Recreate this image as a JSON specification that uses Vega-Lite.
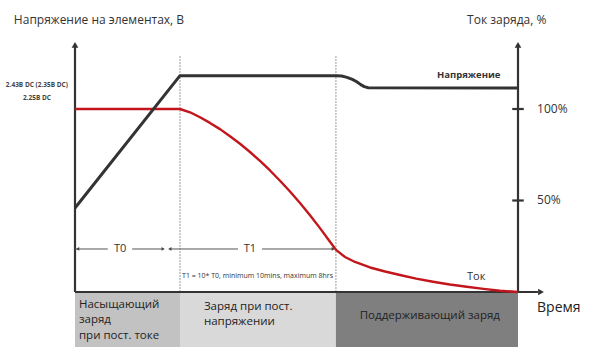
{
  "$schema": "https://vega.github.io/schema/vega-lite/v6.json",
  "width": 600,
  "height": 358,
  "autosize": {"type": "fit", "contains": "padding"},
  "padding": 0,
  "background": "white",
  "config": {"view": {"stroke": null}, "font": "Open Sans"},
  "datasets": {
    "bands": [
      {"phase": "bulk", "t": 0, "t2": 23.7, "v": -0.5, "v2": -30.0},
      {"phase": "absorption", "t": 23.7, "t2": 58.9, "v": -0.5, "v2": -30.0},
      {"phase": "float", "t": 58.9, "t2": 100, "v": -0.5, "v2": -30.0}
    ],
    "phaseMarks": [
      {"t": 23.7, "v": 0, "t2": 23.7, "v2": 129.5},
      {"t": 58.9, "v": 0, "t2": 58.9, "v2": 129.5}
    ],
    "axes": [
      {"axis": "left", "t": 0, "v": 0, "t2": 0, "v2": 134},
      {"axis": "right", "t": 100, "v": 0, "t2": 100, "v2": 134},
      {"axis": "time", "t": 0, "v": 0, "t2": 104.5, "v2": 0},
      {"axis": "tick100", "t": 98.7, "v": 100, "t2": 101.3, "v2": 100},
      {"axis": "tick50", "t": 98.7, "v": 50, "t2": 101.3, "v2": 50}
    ],
    "arrowUp": [{"t": 0, "v": 135}, {"t": 100, "v": 135}],
    "arrowRight": [{"t": 105.2, "v": 0}, {"t": 19.9, "v": 23.5}, {"t": 58.3, "v": 23.5}],
    "arrowLeft": [{"t": 0.6, "v": 23.5}, {"t": 21.4, "v": 23.5}],
    "spans": [
      {"span": "T0a", "t": 0, "v": 23.5, "t2": 7.4, "v2": 23.5},
      {"span": "T0b", "t": 12.9, "v": 23.5, "t2": 19.9, "v2": 23.5},
      {"span": "T1a", "t": 21.4, "v": 23.5, "t2": 36.8, "v2": 23.5},
      {"span": "T1b", "t": 42.2, "v": 23.5, "t2": 58.3, "v2": 23.5}
    ],
    "voltage": [
      {"t": 0, "v": 45.9},
      {"t": 23.7, "v": 118.2},
      {"t": 59.1, "v": 118.2},
      {"t": 60.2, "v": 118.0},
      {"t": 61.4, "v": 117.3},
      {"t": 62.6, "v": 116.2},
      {"t": 63.6, "v": 114.9},
      {"t": 64.5, "v": 113.3},
      {"t": 65.3, "v": 112.2},
      {"t": 66.2, "v": 111.6},
      {"t": 100, "v": 111.5}
    ],
    "current": [
      {"t": 0, "v": 100},
      {"t": 23.7, "v": 100},
      {"t": 25.96, "v": 98.2},
      {"t": 28.22, "v": 95.5},
      {"t": 30.47, "v": 92.4},
      {"t": 32.73, "v": 89.0},
      {"t": 34.99, "v": 85.1},
      {"t": 37.25, "v": 81.0},
      {"t": 39.50, "v": 76.5},
      {"t": 41.76, "v": 71.6},
      {"t": 44.02, "v": 66.4},
      {"t": 46.28, "v": 60.8},
      {"t": 48.53, "v": 54.9},
      {"t": 50.79, "v": 48.6},
      {"t": 53.05, "v": 41.9},
      {"t": 55.30, "v": 34.9},
      {"t": 57.56, "v": 27.5},
      {"t": 58.92, "v": 23.0},
      {"t": 60.95, "v": 19.1},
      {"t": 63.21, "v": 16.4},
      {"t": 66.59, "v": 13.4},
      {"t": 70.0, "v": 11.2},
      {"t": 73.36, "v": 9.3},
      {"t": 77.0, "v": 7.3},
      {"t": 80.81, "v": 5.6},
      {"t": 84.6, "v": 4.1},
      {"t": 88.42, "v": 2.9},
      {"t": 92.2, "v": 1.7},
      {"t": 95.94, "v": 0.7},
      {"t": 100, "v": 0}
    ],
    "titles": [
      {"text": "Напряжение на элементах, В", "t": -13.8, "v": 148.6},
      {"text": "Ток заряда, %", "t": 88.5, "v": 148.6}
    ],
    "voltLabels": [
      {"text": "2.43В DC (2.35В DC)", "t": -8.6, "v": 113.1},
      {"text": "2.25В DC", "t": -8.6, "v": 106.0}
    ],
    "pctLabels": [
      {"text": "100%", "t": 104.3, "v": 100},
      {"text": "50%", "t": 104.3, "v": 50}
    ],
    "spanLabels": [
      {"text": "T0", "t": 10.2, "v": 23.5},
      {"text": "T1", "t": 39.5, "v": 23.5}
    ],
    "note": [
      {"text": "T1 = 10* T0, minimum 10mins, maximum 8hrs", "t": 41.2, "v": 8.7}
    ],
    "seriesLabels": [
      {"text": "Напряжение", "t": 81.7, "v": 118.6, "kind": "bold"},
      {"text": "Ток", "t": 88.5, "v": 8.4, "kind": "plain"}
    ],
    "timeLabel": [{"text": "Время", "t": 104.3, "v": -8.7}],
    "phaseText": [
      {"text": "Насыщающий", "t": 0.9, "v": -7.1},
      {"text": "заряд", "t": 0.9, "v": -15.3},
      {"text": "при пост. токе", "t": 0.9, "v": -24.0},
      {"text": "Заряд при пост.", "t": 29.1, "v": -8.2},
      {"text": "напряжении", "t": 29.1, "v": -16.4}
    ],
    "floatText": [{"text": "Поддерживающий заряд", "t": 80.1, "v": -13.1}]
  },
  "encoding": {
    "x": {"field": "t", "type": "quantitative", "scale": {"domain": [-16.93, 118.51], "nice": false, "zero": false}, "axis": null},
    "y": {"field": "v", "type": "quantitative", "scale": {"domain": [-36.07, 159.56], "nice": false, "zero": false}, "axis": null}
  },
  "layer": [
    {
      "data": {"name": "bands"},
      "mark": {"type": "rect"},
      "encoding": {
        "x2": {"field": "t2"},
        "y2": {"field": "v2"},
        "color": {"field": "phase", "type": "nominal", "legend": null,
          "scale": {"domain": ["bulk", "absorption", "float"], "range": ["#c2c2c2", "#d9d9d9", "#7f7f7f"]}}
      }
    },
    {
      "data": {"name": "phaseMarks"},
      "mark": {"type": "rule", "color": "#9a9a9a", "strokeWidth": 1, "strokeDash": [2, 1]},
      "encoding": {"x2": {"field": "t2"}, "y2": {"field": "v2"}}
    },
    {
      "data": {"name": "axes"},
      "mark": {"type": "rule", "color": "#333333", "strokeWidth": 2.2},
      "encoding": {"x2": {"field": "t2"}, "y2": {"field": "v2"}}
    },
    {
      "data": {"name": "arrowUp"},
      "mark": {"type": "point", "shape": "triangle-up", "filled": true, "color": "#333333", "size": 45, "opacity": 1}
    },
    {
      "data": {"name": "arrowRight"},
      "transform": [{"filter": "datum.v == 0"}],
      "mark": {"type": "point", "shape": "triangle-right", "filled": true, "color": "#333333", "size": 45, "opacity": 1}
    },
    {
      "data": {"name": "spans"},
      "mark": {"type": "rule", "color": "#555555", "strokeWidth": 1},
      "encoding": {"x2": {"field": "t2"}, "y2": {"field": "v2"}}
    },
    {
      "data": {"name": "arrowRight"},
      "transform": [{"filter": "datum.v != 0"}],
      "mark": {"type": "point", "shape": "triangle-right", "filled": true, "color": "#444444", "size": 14, "opacity": 1}
    },
    {
      "data": {"name": "arrowLeft"},
      "mark": {"type": "point", "shape": "triangle-left", "filled": true, "color": "#444444", "size": 14, "opacity": 1}
    },
    {
      "data": {"name": "current"},
      "mark": {"type": "line", "color": "#c3161c", "strokeWidth": 2.4, "interpolate": "linear", "strokeJoin": "round"}
    },
    {
      "data": {"name": "voltage"},
      "mark": {"type": "line", "color": "#333333", "strokeWidth": 3, "interpolate": "linear", "strokeJoin": "round"}
    },
    {
      "data": {"name": "titles"},
      "mark": {"type": "text", "align": "left", "baseline": "middle", "fontSize": 12, "color": "#333333"},
      "encoding": {"text": {"field": "text"}}
    },
    {
      "data": {"name": "voltLabels"},
      "mark": {"type": "text", "align": "center", "baseline": "middle", "fontSize": 6.5, "fontWeight": "bold", "color": "#444444"},
      "encoding": {"text": {"field": "text"}}
    },
    {
      "data": {"name": "pctLabels"},
      "mark": {"type": "text", "align": "left", "baseline": "middle", "fontSize": 12, "color": "#333333"},
      "encoding": {"text": {"field": "text"}}
    },
    {
      "data": {"name": "spanLabels"},
      "mark": {"type": "text", "align": "center", "baseline": "middle", "fontSize": 11, "color": "#333333"},
      "encoding": {"text": {"field": "text"}}
    },
    {
      "data": {"name": "note"},
      "mark": {"type": "text", "align": "center", "baseline": "middle", "fontSize": 7, "color": "#333333"},
      "encoding": {"text": {"field": "text"}}
    },
    {
      "data": {"name": "seriesLabels"},
      "transform": [{"filter": "datum.kind == 'bold'"}],
      "mark": {"type": "text", "align": "left", "baseline": "middle", "fontSize": 9.5, "fontWeight": "bold", "color": "#333333"},
      "encoding": {"text": {"field": "text"}}
    },
    {
      "data": {"name": "seriesLabels"},
      "transform": [{"filter": "datum.kind == 'plain'"}],
      "mark": {"type": "text", "align": "left", "baseline": "middle", "fontSize": 11, "color": "#333333"},
      "encoding": {"text": {"field": "text"}}
    },
    {
      "data": {"name": "timeLabel"},
      "mark": {"type": "text", "align": "left", "baseline": "middle", "fontSize": 14, "color": "#222222"},
      "encoding": {"text": {"field": "text"}}
    },
    {
      "data": {"name": "phaseText"},
      "mark": {"type": "text", "align": "left", "baseline": "middle", "fontSize": 11.5, "color": "#222222"},
      "encoding": {"text": {"field": "text"}}
    },
    {
      "data": {"name": "floatText"},
      "mark": {"type": "text", "align": "center", "baseline": "middle", "fontSize": 11.5, "color": "#222222"},
      "encoding": {"text": {"field": "text"}}
    }
  ]
}
